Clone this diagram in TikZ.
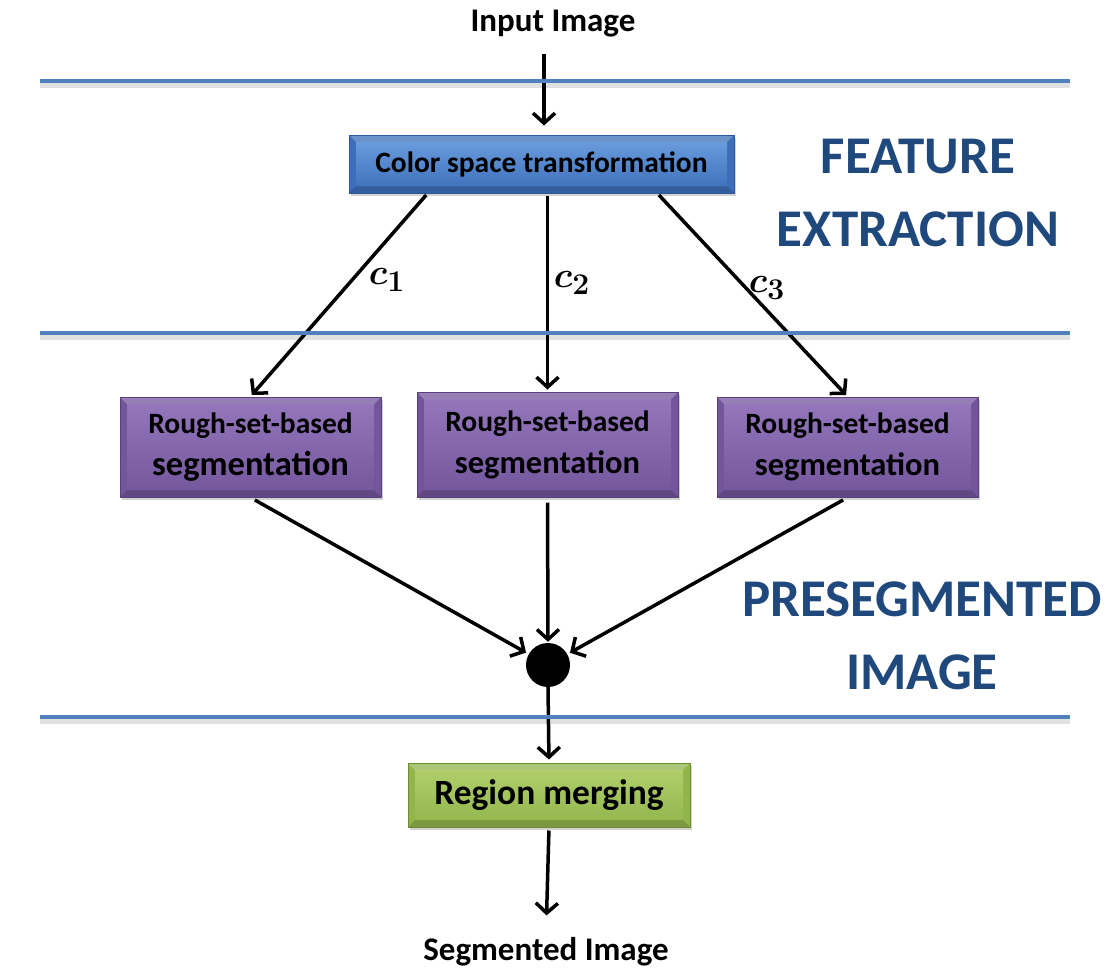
\documentclass[tikz,border=0pt]{standalone}
\usepackage{graphicx}
\usepackage{fontspec}
\setmainfont{Carlito}
\usepackage{bm}
\usetikzlibrary{arrows.meta,shadows,calc}
\definecolor{lineblue}{RGB}{79,129,189}
\definecolor{titleblue}{RGB}{31,73,125}
\definecolor{bluelt}{RGB}{110,160,225}
\definecolor{bluedk}{RGB}{60,110,185}
\definecolor{blueed}{RGB}{45,90,160}
\definecolor{purplt}{RGB}{150,120,190}
\definecolor{purpdk}{RGB}{115,85,155}
\definecolor{purped}{RGB}{90,65,125}
\definecolor{grnlt}{RGB}{180,210,110}
\definecolor{grndk}{RGB}{145,180,75}
\definecolor{grned}{RGB}{110,140,50}
\newcommand{\clab}[1]{\scalebox{1.45}{\fontsize{24.88}{28}\selectfont$\bm{c_{#1}}$}}
\tikzset{
  x=1pt, y=-1pt,
  sepline/.style={draw=lineblue, line width=4pt},
  sepshadow/.style={draw=black, opacity=0.12, line width=5pt},
  arr/.style={draw=black, line width=3.5pt, -{Straight Barb[length=10pt,width=22pt,line width=3.5pt]}},
  bevel/.style n args={3}{rectangle, inner sep=0pt, align=center, font=\bfseries,
    draw=#3, line width=1pt, fill=#2,
    drop shadow={shadow xshift=2pt, shadow yshift=-3pt, opacity=0.35},
    path picture={
      \fill[top color=#1, bottom color=#2]
        ([shift={(7pt,-7pt)}]path picture bounding box.north west) rectangle
        ([shift={(-7pt,7pt)}]path picture bounding box.south east);
      \fill[white, opacity=0.25]
        (path picture bounding box.north west) -- (path picture bounding box.north east)
        -- ([shift={(-7pt,-7pt)}]path picture bounding box.north east)
        -- ([shift={(7pt,-7pt)}]path picture bounding box.north west) -- cycle;
      \fill[black, opacity=0.15]
        (path picture bounding box.south west) -- (path picture bounding box.south east)
        -- ([shift={(-7pt,7pt)}]path picture bounding box.south east)
        -- ([shift={(7pt,7pt)}]path picture bounding box.south west) -- cycle;
    }},
  bluebox/.style={bevel={bluelt}{bluedk}{blueed}},
  purpbox/.style={bevel={purplt}{purpdk}{purped}},
  grnbox/.style={bevel={grnlt}{grndk}{grned}},
  plain/.style={font=\bfseries, inner sep=2pt},
  title/.style={font=\bfseries\fontsize{53}{73}\selectfont, text=titleblue, align=center},
  clabel/.style={inner sep=0pt},
}
\begin{document}
\begin{tikzpicture}
\useasboundingbox (0,0) rectangle (1112,972);
\fill[white] (0,0) rectangle (1112,972);

% nodes
\node[plain, font=\bfseries\fontsize{33}{36}\selectfont] (inp) at (553,24) {Input Image};
\node[bluebox, minimum width=385pt, minimum height=58pt, font=\bfseries\fontsize{29.5}{32}\selectfont] (cst) at (541.5,164) {Color space transformation};
\node[purpbox, minimum width=261pt, minimum height=100pt, font=\bfseries\fontsize{29.5}{42}\selectfont] (r1) at (250.5,447) {Rough-set-based\\{\fontsize{34.5}{36}\selectfont segmentation}};
\node[purpbox, minimum width=261pt, minimum height=105pt, font=\bfseries\fontsize{29.5}{42}\selectfont] (r2) at (547.5,444.5) {Rough-set-based\\{\fontsize{32.5}{36}\selectfont segmentation}};
\node[purpbox, minimum width=261pt, minimum height=100pt, font=\bfseries\fontsize{29.5}{42}\selectfont] (r3) at (847.5,447) {Rough-set-based\\{\fontsize{32.5}{36}\selectfont segmentation}};
\node[circle, fill=black, minimum size=44pt, inner sep=0pt] (dot) at (548,665) {};
\node[grnbox, minimum width=282pt, minimum height=64pt, font=\bfseries\fontsize{35.5}{38}\selectfont] (rm) at (549,795) {Region merging};
\node[plain, font=\bfseries\fontsize{33}{36}\selectfont] (out) at (546,952) {Segmented Image};

% titles
\node[title] (fe) at (918,193) {FEATURE\\EXTRACTION};
\node[title] (ps) at (922,636) {PRESEGMENTED\\IMAGE};

% connector labels
\node[clabel] (l1) at (387,280) {\clab{1}};
\node[clabel] (l2) at (572,283) {\clab{2}};
\node[clabel] (l3) at (767,288) {\clab{3}};

% connectors
\draw[arr, shorten <=14pt, shorten >=9pt] (inp.south -| 544,0) -- (cst.north -| 544,0);
\draw[arr, shorten <=2pt, shorten >=2pt] ([xshift=79pt]cst.south west) -- (r1.north);
\draw[arr, shorten <=2pt, shorten >=2pt] (cst.south -| r2.north) -- (r2.north);
\draw[arr, shorten <=2pt, shorten >=2pt] ([xshift=-77pt]cst.south east) -- (r3.north);
\draw[arr, shorten <=5pt, shorten >=3pt] (r1.south) -- (dot);
\draw[arr, shorten <=5pt, shorten >=1pt] (r2.south) -- (dot.north);
\draw[arr, shorten <=5pt, shorten >=3pt] (r3.south) -- (dot);
\draw[arr, shorten >=3pt] (dot.south) -- (rm.north);
\draw[arr, shorten <=3pt, shorten >=20pt] (rm.south) -- (out.north);

% separator lines
\foreach \yy in {81,333,717} {
  \draw[sepshadow] (40,\yy+4) -- (1070,\yy+4);
  \draw[sepline] (40,\yy) -- (1070,\yy);
}
\end{tikzpicture}
\end{document}
